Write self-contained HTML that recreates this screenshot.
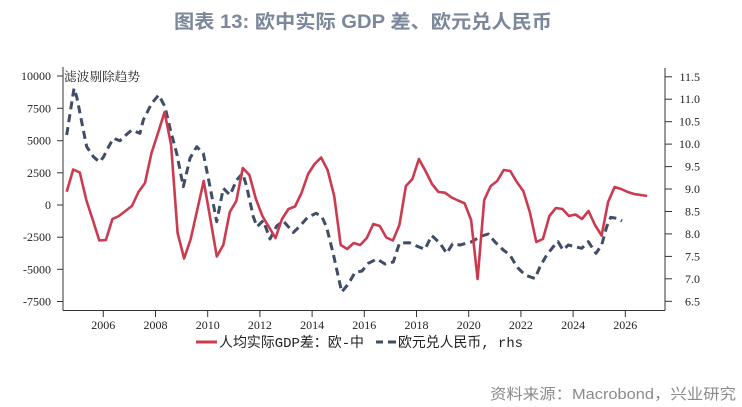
<!DOCTYPE html>
<html>
<head>
<meta charset="utf-8">
<style>
html,body{margin:0;padding:0;background:#fff;}
svg{display:block;}
</style>
</head>
<body>
<svg width="742" height="407" viewBox="0 0 742 407" xmlns="http://www.w3.org/2000/svg">
<rect width="742" height="407" fill="#fff"/>
<!-- Title -->
<text x="174" y="28" font-family="'Liberation Sans','Noto Sans CJK SC',sans-serif" font-size="19" font-weight="bold" fill="#7b879b" textLength="378" lengthAdjust="spacingAndGlyphs">图表 13: 欧中实际 GDP 差、欧元兑人民币</text>

<!-- axes -->
<g stroke="#333" stroke-width="1" fill="none">
<line x1="63" y1="67" x2="63" y2="310.5"/>
<line x1="63" y1="310.5" x2="665" y2="310.5"/>
<line x1="665" y1="68" x2="665" y2="310.5"/>
<!-- left ticks -->
<line x1="57" y1="76" x2="63" y2="76"/>
<line x1="57" y1="108.3" x2="63" y2="108.3"/>
<line x1="57" y1="140.7" x2="63" y2="140.7"/>
<line x1="57" y1="172.8" x2="63" y2="172.8"/>
<line x1="57" y1="205" x2="63" y2="205"/>
<line x1="57" y1="237.2" x2="63" y2="237.2"/>
<line x1="57" y1="269.3" x2="63" y2="269.3"/>
<line x1="57" y1="301.5" x2="63" y2="301.5"/>
<!-- right ticks -->
<line x1="665" y1="76.8" x2="672" y2="76.8"/>
<line x1="665" y1="99.2" x2="672" y2="99.2"/>
<line x1="665" y1="121.7" x2="672" y2="121.7"/>
<line x1="665" y1="144.1" x2="672" y2="144.1"/>
<line x1="665" y1="166.6" x2="672" y2="166.6"/>
<line x1="665" y1="189" x2="672" y2="189"/>
<line x1="665" y1="211.5" x2="672" y2="211.5"/>
<line x1="665" y1="233.9" x2="672" y2="233.9"/>
<line x1="665" y1="256.4" x2="672" y2="256.4"/>
<line x1="665" y1="278.8" x2="672" y2="278.8"/>
<line x1="665" y1="301.3" x2="672" y2="301.3"/>
<!-- x ticks -->
<line x1="103.3" y1="310.5" x2="103.3" y2="317"/>
<line x1="155.5" y1="310.5" x2="155.5" y2="317"/>
<line x1="207.7" y1="310.5" x2="207.7" y2="317"/>
<line x1="259.9" y1="310.5" x2="259.9" y2="317"/>
<line x1="312.1" y1="310.5" x2="312.1" y2="317"/>
<line x1="364.3" y1="310.5" x2="364.3" y2="317"/>
<line x1="416.5" y1="310.5" x2="416.5" y2="317"/>
<line x1="468.7" y1="310.5" x2="468.7" y2="317"/>
<line x1="520.9" y1="310.5" x2="520.9" y2="317"/>
<line x1="573.1" y1="310.5" x2="573.1" y2="317"/>
<line x1="625.3" y1="310.5" x2="625.3" y2="317"/>
</g>

<!-- left labels -->
<g font-family="'Liberation Serif',serif" font-size="12" fill="#222" text-anchor="end">
<text x="51" y="80">10000</text>
<text x="51" y="112.3">7500</text>
<text x="51" y="144.7">5000</text>
<text x="51" y="176.8">2500</text>
<text x="51" y="209">0</text>
<text x="51" y="241.2">-2500</text>
<text x="51" y="273.3">-5000</text>
<text x="51" y="305.5">-7500</text>
</g>
<!-- right labels -->
<g font-family="'Liberation Serif',serif" font-size="12" fill="#222" text-anchor="end">
<text x="700" y="80.8">11.5</text>
<text x="700" y="103.2">11.0</text>
<text x="700" y="125.7">10.5</text>
<text x="700" y="148.1">10.0</text>
<text x="700" y="170.6">9.5</text>
<text x="700" y="193">9.0</text>
<text x="700" y="215.5">8.5</text>
<text x="700" y="237.9">8.0</text>
<text x="700" y="260.4">7.5</text>
<text x="700" y="282.8">7.0</text>
<text x="700" y="305.3">6.5</text>
</g>
<!-- x labels -->
<g font-family="'Liberation Serif',serif" font-size="12" fill="#222" text-anchor="middle">
<text x="103.3" y="329">2006</text>
<text x="155.5" y="329">2008</text>
<text x="207.7" y="329">2010</text>
<text x="259.9" y="329">2012</text>
<text x="312.1" y="329">2014</text>
<text x="364.3" y="329">2016</text>
<text x="416.5" y="329">2018</text>
<text x="468.7" y="329">2020</text>
<text x="520.9" y="329">2022</text>
<text x="573.1" y="329">2024</text>
<text x="625.3" y="329">2026</text>
</g>

<!-- annotation -->
<text x="64" y="81" font-family="'Liberation Serif','Noto Serif CJK SC',serif" font-size="12.5" fill="#222" textLength="76" lengthAdjust="spacingAndGlyphs">滤波剔除趋势</text>

<!-- blue dashed series -->
<polyline fill="none" stroke="#3f4d66" stroke-width="3" stroke-dasharray="8,5" stroke-linejoin="round"
points="66.7,135 74,88.3 77,98 83.3,130 86.7,146.7 93.3,156.7 99.5,162 103.3,157.3 108,148 113.3,138.3 120,140.7 126,135 131.7,130 140,133.3 143.3,120 151.7,103.3 158.7,95 165,106.7 170,128.3 176.7,153.3 183.3,186.7 190,158.3 196.7,146.7 203.3,153.3 210,186.7 216.7,221.7 223.3,188.3 230,195 236.7,180 242.7,173.3 246.7,186.7 253.3,216.7 257,226.7 263.3,220.5 270,239 276.7,226 283.3,221 293.3,232.5 300,226 307.5,217.5 316,213.3 321.7,216.3 326.7,227.5 333.3,254 338.3,276.7 341.7,292 348.3,284 355,272.5 362,271 368.3,263.3 377,259 385,264 393.3,262 399.5,243 409.5,242.7 418.3,246.7 425,249.3 431.7,235.5 440,243.3 446.7,253.3 452.5,244 460,245 471,242 481.7,236 488.3,234 495,242 503.3,250 510,255 516.7,266.7 525,275 535,278.5 540,266.7 546.7,255 553.3,246.7 558,241.7 563,250 568.3,245 575,246.7 581.7,248.3 588.3,241.7 596,253.3 601.7,245 606.7,226.7 610.7,217.3 616.7,218.3 622,221"/>

<!-- red series -->
<polyline fill="none" stroke="#cc3a50" stroke-width="2.6" stroke-linejoin="round"
points="66.7,191.7 73.2,169.5 79.8,172.5 86.3,200 92.8,220 99.3,240.5 105.9,240 112.4,219 118.9,216 125.4,211 131.9,206 138.5,192 145,183 151.5,153 158,133 164.6,112 171.1,145 177.6,233 184.1,258.5 190.7,239 197.2,210 203.7,181 210.2,218 216.8,256.5 223.3,245 229.8,212 236.3,201 242.8,168 249.4,175 255.9,199 262.4,216 268.9,227 275.5,238 282,219 288.5,209 295,206.5 301.5,193 308.1,174 314.6,164 321.1,157.5 327.6,170 334.2,196 340.7,245 347.2,249 353.7,243 360.2,245 366.8,238 373.3,224 379.8,226 386.3,237.5 392.9,240.5 399.4,225 405.9,186 412.4,179 418.9,159 425.5,171 432,184 438.5,192 445,192.7 451.6,197.5 458.1,200.5 464.6,203.3 471.1,220 477.6,279 484.2,200 490.7,186 497.2,181 503.7,170 510.3,171 516.8,182 523.3,191 529.8,212 536.3,242 542.9,239 549.4,216 555.9,208 562.4,209 568.9,216 575.5,214.5 582,219 588.5,211 595,225 601.6,235.5 608.1,202 614.6,187 621.1,189 627.7,192 634.2,194 640.7,195 647.2,196"/>

<!-- legend -->
<line x1="196" y1="342" x2="217" y2="342" stroke="#cc3a50" stroke-width="3"/>
<text x="219" y="347" font-family="'Liberation Mono','Noto Sans CJK SC',monospace" font-size="14" fill="#222" textLength="145" lengthAdjust="spacingAndGlyphs">人均实际GDP差：欧-中</text>
<line x1="376" y1="342" x2="383" y2="342" stroke="#3f4d66" stroke-width="3"/>
<line x1="388" y1="342" x2="396" y2="342" stroke="#3f4d66" stroke-width="3"/>
<text x="398" y="347" font-family="'Liberation Mono','Noto Sans CJK SC',monospace" font-size="14" fill="#222" textLength="125" lengthAdjust="spacingAndGlyphs">欧元兑人民币, rhs</text>

<!-- source -->
<text x="490" y="399" font-family="'Liberation Sans','Noto Sans CJK SC',sans-serif" font-size="15" fill="#8a8a8a" textLength="246" lengthAdjust="spacingAndGlyphs">资料来源：Macrobond，兴业研究</text>
</svg>
</body>
</html>
